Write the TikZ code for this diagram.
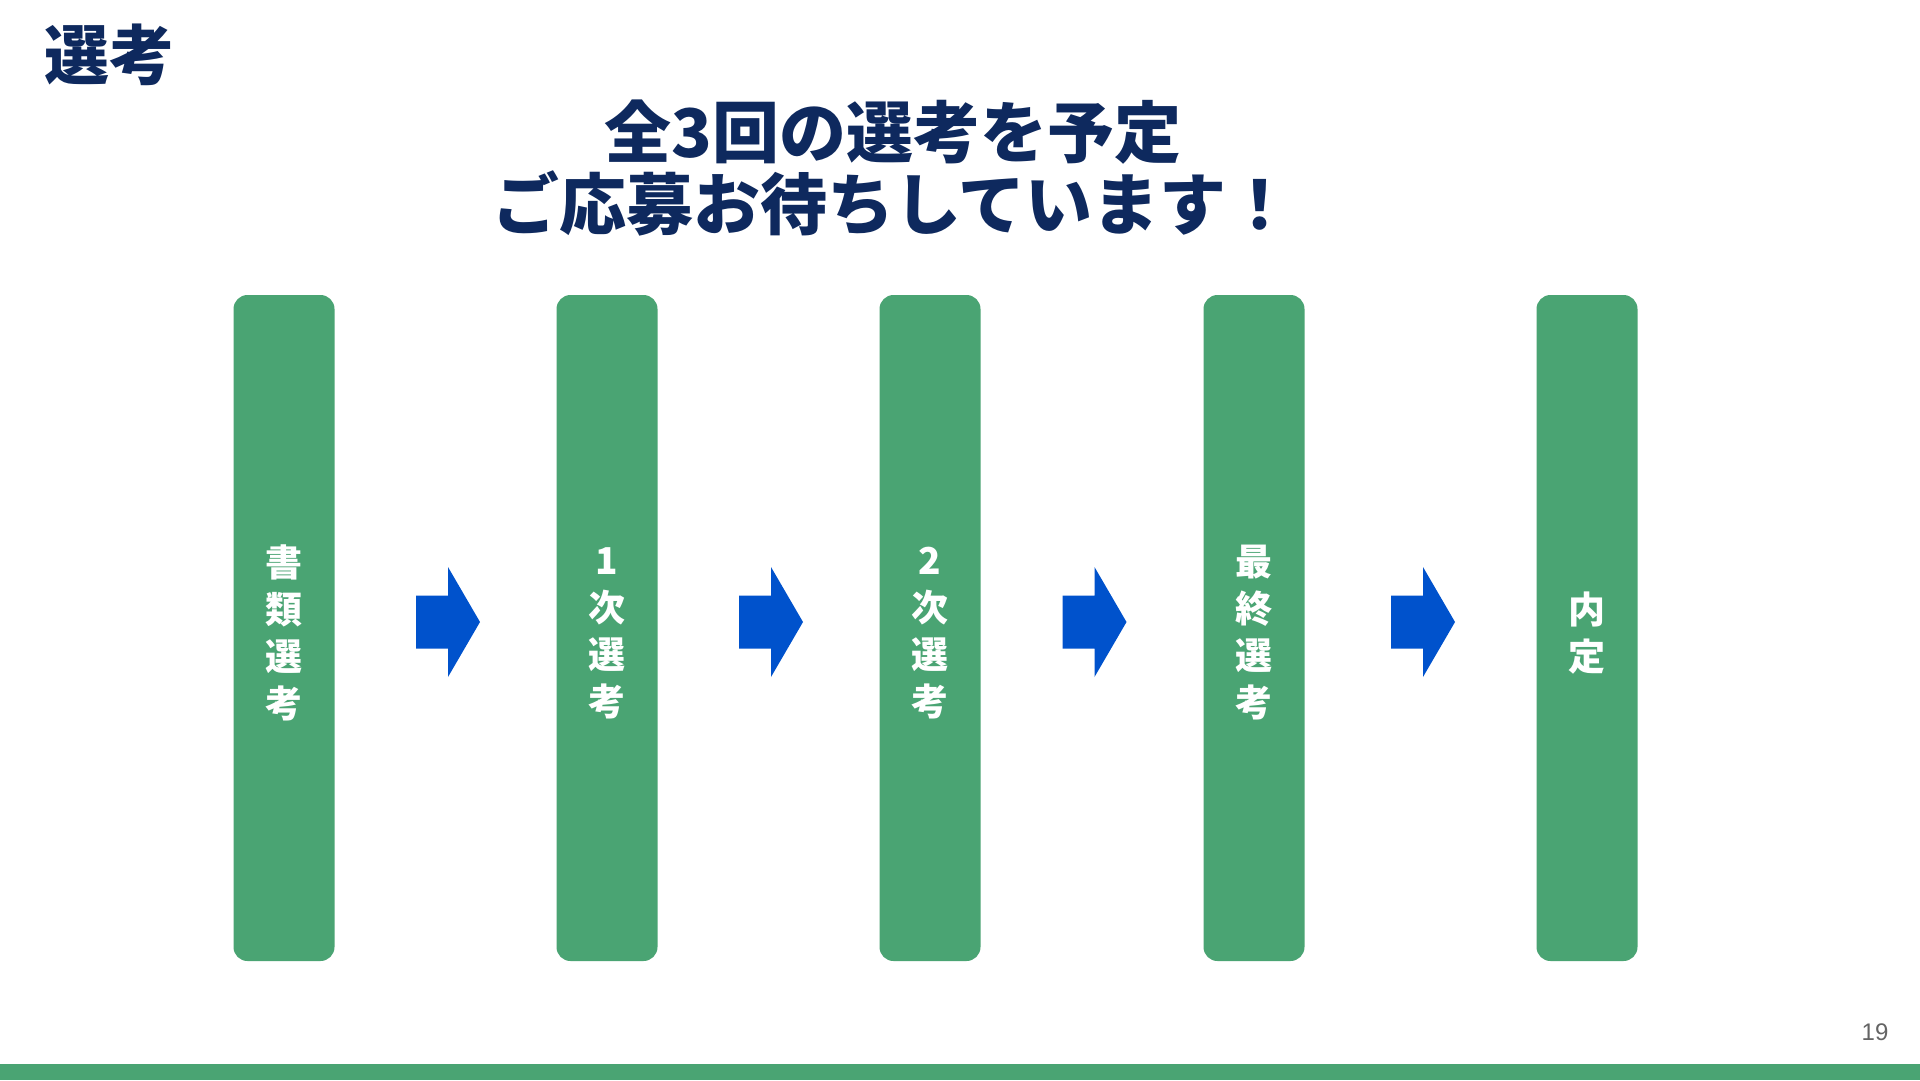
\documentclass[tikz,border=0pt]{standalone}
\usepackage{fontspec}
\newfontfamily\cjk{Noto Sans CJK JP}
\setsansfont{Liberation Sans}
\definecolor{boxgreen}{RGB}{74,164,115}
\definecolor{arrowblue}{RGB}{0,82,204}
\definecolor{navy}{RGB}{14,41,94}
\definecolor{pagegrey}{RGB}{100,100,100}
\begin{document}
\begin{tikzpicture}[x=1pt,y=-1pt,
  stage/.style={fill=boxgreen, rounded corners=14pt, minimum width=101pt, minimum height=666pt, inner sep=0pt},
  stagetext/.style={inner sep=0pt, text=white, font=\cjk\bfseries\fontsize{37}{47}\selectfont, align=center},
  flow/.style={fill=arrowblue}]
\fill[white] (0,0) rectangle (1920,1080);
\useasboundingbox (0,0) rectangle (1920,1080);
% header
\node[anchor=west, inner sep=0pt, text=navy, font=\cjk\bfseries\fontsize{65}{72}\selectfont] (hdr) at (44,55) {選考};
\node[inner sep=0pt, text=navy, align=center, font=\cjk\bfseries\fontsize{67}{72}\selectfont] (title) at (893,168) {全3回の選考を予定\\ご応募お待ちしています！};
% stages
\node[stage] (s1) at (284,628) {};
\node[stage] (s2) at (607,628) {};
\node[stage] (s3) at (930,628) {};
\node[stage] (s4) at (1254,628) {};
\node[stage] (s5) at (1587,628) {};
\node[stagetext] (t1) at ([yshift=-5pt]s1.center) {書\\類\\選\\考};
\node[stagetext] (t2) at ([yshift=-5pt]s2.center) {1\\次\\選\\考};
\node[stagetext] (t3) at ([yshift=-5pt]s3.center) {2\\次\\選\\考};
\node[stagetext] (t4) at ([yshift=-5pt]s4.center) {最\\終\\選\\考};
\node[stagetext] (t5) at ([yshift=-5pt]s5.center) {内\\定};
% arrows
\foreach \a/\b in {s1/s2,s2/s3,s3/s4,s4/s5}{
  \path (\a.east) -- (\b.west) coordinate[midway] (m);
  \fill[flow] ([shift={(-29.5,-32.5)}]m) -- ([shift={(2.5,-32.5)}]m) -- ([shift={(2.5,-61)}]m)
    -- ([shift={(34.5,-6)}]m) -- ([shift={(2.5,49)}]m) -- ([shift={(2.5,20.5)}]m)
    -- ([shift={(-29.5,20.5)}]m) -- cycle;
}
% footer
\fill[boxgreen] (0,1064) rectangle (1920,1080);
\node[inner sep=0pt, text=pagegrey, font=\sffamily\fontsize{24}{28}\selectfont] (pg) at (1875,1032) {19};
\end{tikzpicture}
\end{document}
